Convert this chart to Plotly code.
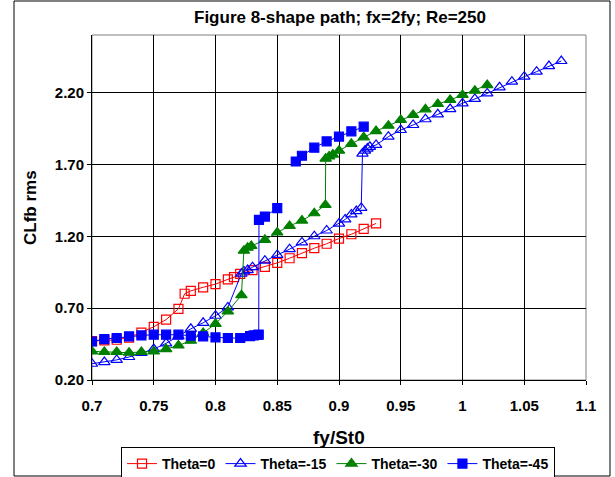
import plotly.graph_objects as go

# Theta = 0
x_t0 = [0.70, 0.71, 0.72, 0.73, 0.74, 0.75, 0.76, 0.77, 0.775, 0.78, 0.79, 0.80, 0.81, 0.815,
        0.82, 0.83, 0.84, 0.85, 0.86, 0.87, 0.88, 0.89, 0.90, 0.91, 0.92, 0.93]
y_t0 = [0.47, 0.475, 0.48, 0.495, 0.53, 0.57, 0.62, 0.695, 0.80, 0.82, 0.845, 0.867, 0.90, 0.915,
        0.938, 0.965, 0.987, 1.015, 1.047, 1.083, 1.117, 1.148, 1.184, 1.214, 1.251, 1.289]

# Theta = -15
x_t15 = [0.70, 0.71, 0.72, 0.73, 0.74, 0.75, 0.76, 0.77, 0.78, 0.79, 0.80, 0.81,
         0.821, 0.823, 0.826, 0.83, 0.84, 0.85, 0.86, 0.87, 0.88, 0.89, 0.90, 0.905,
         0.91, 0.914, 0.918, 0.919, 0.921, 0.923, 0.925, 0.93,
         0.94, 0.95, 0.96, 0.97, 0.98, 0.99, 1.00, 1.01, 1.02, 1.03, 1.04, 1.05, 1.06, 1.07, 1.08]
y_t15 = [0.313, 0.325, 0.34, 0.36, 0.388, 0.415, 0.455, 0.505, 0.556, 0.598, 0.647, 0.705,
         0.94, 0.955, 0.965, 0.985, 1.03, 1.07, 1.11, 1.157, 1.20, 1.24, 1.288, 1.317,
         1.352, 1.375, 1.397, 1.775, 1.795, 1.81, 1.822, 1.835,
         1.893, 1.939, 1.974, 2.014, 2.048, 2.085, 2.125, 2.155, 2.194, 2.236, 2.275, 2.31, 2.345, 2.384, 2.419]

# Theta = -30
x_t30 = [0.70, 0.71, 0.72, 0.73, 0.74, 0.75, 0.76, 0.77, 0.78, 0.79, 0.80, 0.81,
         0.821, 0.823, 0.826, 0.829, 0.84, 0.85, 0.86, 0.87, 0.88, 0.889,
         0.8892, 0.892, 0.895, 0.90, 0.91, 0.92,
         0.93, 0.94, 0.95, 0.96, 0.97, 0.98, 0.99, 1.00, 1.01, 1.02]
y_t30 = [0.399, 0.395, 0.395, 0.39, 0.395, 0.399, 0.415, 0.44, 0.473, 0.527, 0.591, 0.677,
         0.79, 1.10, 1.12, 1.133, 1.175, 1.226, 1.272, 1.309, 1.36, 1.418,
         1.74, 1.755, 1.768, 1.795, 1.843, 1.888,
         1.932, 1.969, 2.009, 2.044, 2.083, 2.12, 2.148, 2.183, 2.213, 2.252]

# Theta = -45 (None separates the lower and upper branches)
x_t45 = [0.70, 0.71, 0.72, 0.73, 0.74, 0.75, 0.76, 0.77, 0.78, 0.79, 0.80, 0.81, 0.82,
         0.828, 0.831, 0.834, 0.835, 0.8352, 0.84, 0.85, None,
         0.865, 0.87, 0.88, 0.89, 0.90, 0.91, 0.92]
y_t45 = [0.468, 0.485, 0.492, 0.503, 0.51, 0.515, 0.515, 0.515, 0.508, 0.503, 0.496, 0.492, 0.492,
         0.505, 0.51, 0.513, 0.515, 1.314, 1.337, 1.395, None,
         1.72, 1.76, 1.816, 1.86, 1.893, 1.93, 1.962]

FONT = "Arial, Liberation Sans, sans-serif"

series = [
    ("Theta=0", x_t0, y_t0, "#FF0000", "square-open"),
    ("Theta=-15", x_t15, y_t15, "#0000FF", "triangle-up-open"),
    ("Theta=-30", x_t30, y_t30, "#008000", "triangle-up"),
    ("Theta=-45", x_t45, y_t45, "#0000FF", "square"),
]

fig = go.Figure()
for name, xs, ys, color, symbol in series:
    fig.add_trace(go.Scatter(
        x=xs, y=ys, name=name, mode="lines+markers",
        connectgaps=False,
        line=dict(color=color, width=1),
        marker=dict(symbol=symbol, size=9 if "square" in symbol else 10, color=color,
                    line=dict(color=color, width=1.2)),
    ))

axis_common = dict(
    showline=True, linecolor="black", linewidth=1,
    showgrid=True, gridcolor="black", gridwidth=1,
    ticks="outside", ticklen=4, tickcolor="black",
    tickfont=dict(family=FONT, size=15, color="black", weight="bold"),
    zeroline=False,
)

fig.update_xaxes(range=[0.7, 1.1], tick0=0.7, dtick=0.05, ticklabelstandoff=8, **axis_common)
fig.update_yaxes(range=[0.2, 2.6], tick0=0.2, dtick=0.5, tickformat=".2f", **axis_common)

# plot area: x 92..586 px, y 35..380 px
L, R, T, B = 92, 29, 35, 97
PW, PH = 615 - L - R, 477 - T - B


def px_x(px):
    return (px - L) / PW


def px_y(py):
    return 1 - (py - T) / PH


fig.update_layout(
    width=615, height=477,
    margin=dict(l=L, r=R, t=T, b=B, autoexpand=False),
    paper_bgcolor="white", plot_bgcolor="white",
    showlegend=True,
    legend=dict(
        orientation="h", x=px_x(338), xanchor="center", y=px_y(464), yanchor="middle",
        bordercolor="black", borderwidth=1, bgcolor="white",
        font=dict(family=FONT, size=14, color="black", weight="bold"),
        itemwidth=30, tracegroupgap=0,
    ),
    shapes=[
        # plot-area frame (top and right edges)
        dict(type="rect", xref="paper", yref="paper", x0=0, x1=1, y0=0, y1=1,
             line=dict(color="#808080", width=1), layer="below"),
        # chart-area border
        dict(type="rect", xref="paper", yref="paper",
             x0=px_x(14), x1=px_x(610), y0=px_y(476), y1=px_y(1),
             line=dict(color="black", width=1)),
    ],
    annotations=[
        dict(text="Figure 8-shape path; fx=2fy; Re=250", xref="paper", yref="paper",
             x=px_x(340), y=px_y(17), xanchor="center", yanchor="middle", showarrow=False,
             font=dict(family=FONT, size=17, color="black", weight="bold")),
        dict(text="fy/St0", xref="paper", yref="paper",
             x=px_x(339), y=px_y(437), xanchor="center", yanchor="middle", showarrow=False,
             font=dict(family=FONT, size=19, color="black", weight="bold")),
        dict(text="CLfb rms", xref="paper", yref="paper",
             x=px_x(30), y=px_y(208), xanchor="center", yanchor="middle",
             showarrow=False, textangle=-90,
             font=dict(family=FONT, size=17, color="black", weight="bold")),
    ],
)

fig.write_html("out.html")
